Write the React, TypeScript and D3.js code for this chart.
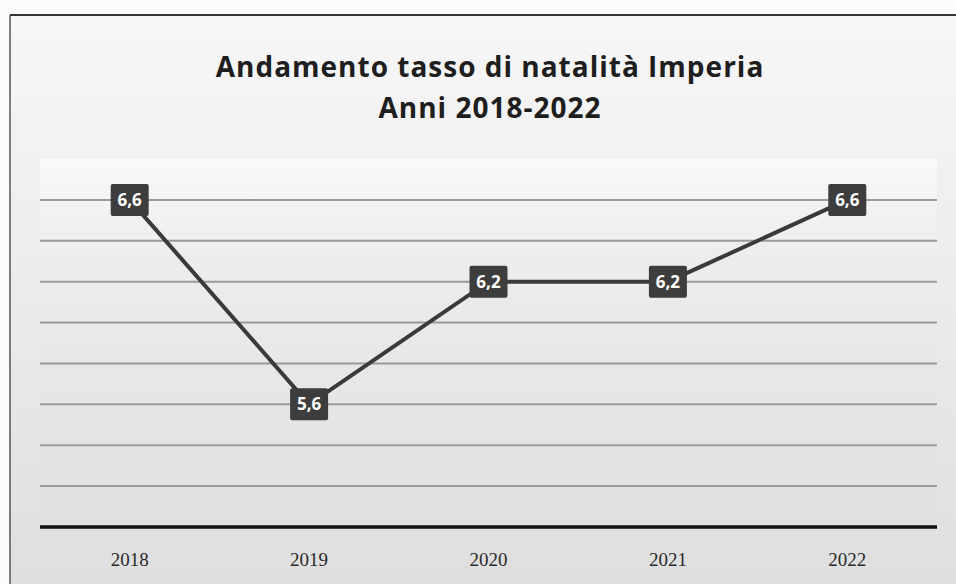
import React from "react";
import * as d3 from "d3";

const years = ["2018", "2019", "2020", "2021", "2022"];
const rates = [6.6, 5.6, 6.2, 6.2, 6.6];
const labels = ["6,6", "5,6", "6,2", "6,2", "6,6"];
const gridValues = [5.2, 5.4, 5.6, 5.8, 6.0, 6.2, 6.4, 6.6];
const titleLines = ["Andamento tasso di natalità Imperia", "Anni 2018-2022"];

const W = 956;
const H = 584;
const plot = { left: 40, right: 937, top: 159, bottom: 527 };

export default function App() {
  const x = d3
    .scalePoint<string>()
    .domain(years)
    .range([plot.left, plot.right])
    .padding(0.5);
  const y = d3.scaleLinear().domain([5.0, 6.8]).range([plot.bottom, plot.top]);
  const line = d3
    .line<number>()
    .x((_, i) => x(years[i]) as number)
    .y((d) => y(d));

  return (
    <svg
      width={W}
      height={H}
      style={{ position: "absolute", left: 0, top: 0, display: "block" }}
    >
      <defs>
        <linearGradient id="paper" x1="0" y1="0" x2="0" y2="1">
          <stop offset="0" stopColor="#f7f7f7" />
          <stop offset="0.45" stopColor="#ececec" />
          <stop offset="1" stopColor="#dedede" />
        </linearGradient>
        <linearGradient id="plotbg" x1="0" y1="0" x2="0" y2="1">
          <stop offset="0" stopColor="#f9f9f9" />
          <stop offset="0.25" stopColor="#ededed" />
          <stop offset="1" stopColor="#e0e0e0" />
        </linearGradient>
      </defs>
      <rect x={0} y={0} width={W} height={H} fill="#fbfbfb" />
      <rect x={10} y={15} width={W} height={H} fill="url(#paper)" />
      <line x1={10} y1={15} x2={W} y2={15} stroke="#333" strokeWidth={2} />
      <line x1={10} y1={15} x2={10} y2={H} stroke="#555" strokeWidth={1.5} />
      <rect
        x={plot.left}
        y={plot.top}
        width={plot.right - plot.left}
        height={plot.bottom - plot.top}
        fill="url(#plotbg)"
      />
      {titleLines.map((t, i) => (
        <text
          key={i}
          x={490}
          y={77 + i * 41}
          textAnchor="middle"
          fontFamily="'Open Sans', sans-serif"
          fontWeight={700}
          fontSize={28}
          letterSpacing={1}
          fill="#1e1e1e"
        >
          {t}
        </text>
      ))}
      {gridValues.map((v) => (
        <line
          key={v}
          x1={plot.left}
          x2={plot.right}
          y1={y(v)}
          y2={y(v)}
          stroke="#9a9a9a"
          strokeWidth={2}
        />
      ))}
      <line
        x1={plot.left}
        x2={plot.right}
        y1={plot.bottom}
        y2={plot.bottom}
        stroke="#111"
        strokeWidth={3.5}
      />
      {years.map((yr) => (
        <text
          key={yr}
          x={x(yr) as number}
          y={566}
          textAnchor="middle"
          fontFamily="'Liberation Serif', serif"
          fontSize={19}
          fill="#2a2a2a"
        >
          {yr}
        </text>
      ))}
      <path
        d={line(rates) || ""}
        fill="none"
        stroke="#3a3a3a"
        strokeWidth={4}
      />
      {rates.map((v, i) => {
        const cx = x(years[i]) as number;
        const cy = y(v);
        return (
          <g key={i}>
            <circle cx={cx} cy={cy} r={15} fill="#444" />
            <rect
              x={cx - 19}
              y={cy - 16}
              width={38}
              height={32}
              rx={2}
              fill="#3d3d3d"
            />
            <text
              x={cx}
              y={cy + 6}
              textAnchor="middle"
              fontFamily="'Open Sans', sans-serif"
              fontWeight={700}
              fontSize={17}
              fill="#ffffff"
            >
              {labels[i]}
            </text>
          </g>
        );
      })}
    </svg>
  );
}
